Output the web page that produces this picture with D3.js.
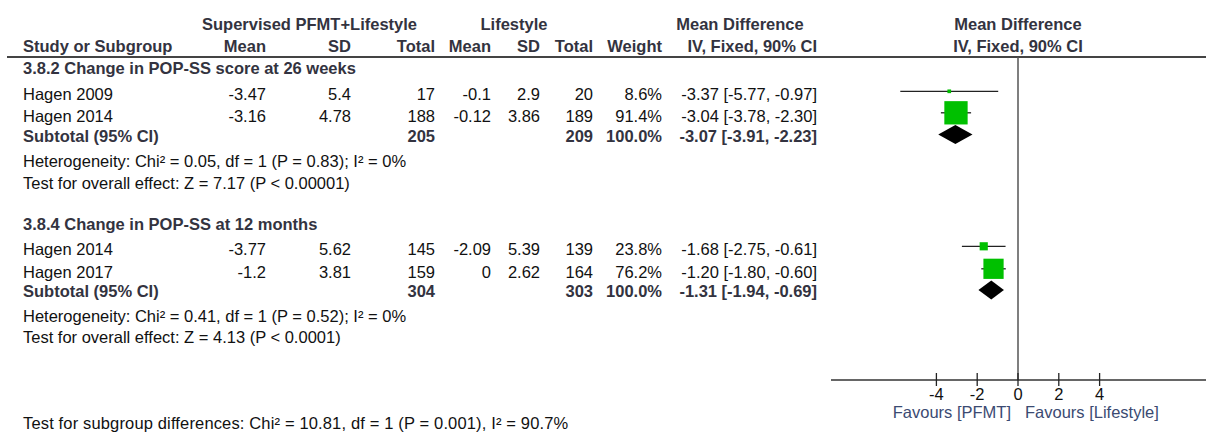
<!DOCTYPE html>
<html>
<head>
<meta charset="utf-8">
<script src="https://cdn.jsdelivr.net/npm/d3@7"></script>
<style>
  html, body { margin: 0; padding: 0; background: #fff; }
  svg { display: block; }
  text { font-family: "Liberation Sans", Arial, sans-serif; font-size: 16.5px; }
  .b { font-weight: bold; fill: #333340; }
  .r { fill: #111; }
</style>
</head>
<body>
<svg id="chart" width="1206" height="433"></svg>
<script>
// Subgroup titles
const groupTitles = ["3.8.2 Change in POP-SS score at 26 weeks", "3.8.4 Change in POP-SS at 12 months"];

// Study-level data
const studyNames = ["Hagen 2009", "Hagen 2014", "Hagen 2014", "Hagen 2017"];
const studyGroup = [0, 0, 1, 1];
const expMean  = [-3.47, -3.16, -3.77, -1.2];
const expSD    = [5.4, 4.78, 5.62, 3.81];
const expTotal = [17, 188, 145, 159];
const ctlMean  = [-0.1, -0.12, -2.09, 0];
const ctlSD    = [2.9, 3.86, 5.39, 2.62];
const ctlTotal = [20, 189, 139, 164];
const weights  = [8.6, 91.4, 23.8, 76.2];
const meanDiff = [-3.37, -3.04, -1.68, -1.20];
const ciLow    = [-5.77, -3.78, -2.75, -1.80];
const ciHigh   = [-0.97, -2.30, -0.61, -0.60];

// Subgroup pooled results
const subExpTotal = [205, 304];
const subCtlTotal = [209, 303];
const subWeight   = [100, 100];
const subMD       = [-3.07, -1.31];
const subLow      = [-3.91, -1.94];
const subHigh     = [-2.23, -0.69];
const heterogeneity = [
  "Heterogeneity: Chi² = 0.05, df = 1 (P = 0.83); I² = 0%",
  "Heterogeneity: Chi² = 0.41, df = 1 (P = 0.52); I² = 0%"
];
const overallEffect = [
  "Test for overall effect: Z = 7.17 (P < 0.00001)",
  "Test for overall effect: Z = 4.13 (P < 0.0001)"
];
const subgroupTest = "Test for subgroup differences: Chi² = 10.81, df = 1 (P = 0.001), I² = 90.7%";

// Axis
const tickValues = [-4, -2, 0, 2, 4];
const favoursLeft = "Favours [PFMT]";
const favoursRight = "Favours [Lifestyle]";

const svg = d3.select("#chart");
const f2 = d3.format(".2f");
const pct = v => d3.format(".1f")(v) + "%";
const ciText = (m, lo, hi) => `${f2(m)} [${f2(lo)}, ${f2(hi)}]`.replace(/−/g, "-");

// Forest plot scale
const x = d3.scaleLinear().domain([-4, 4]).range([936.4, 1099.6]);
const boxSize = d3.scalePow().exponent(0.78).domain([0, 100]).range([0, 25]);

// Column right edges of the table
const col = { name: 23, eMean: 266, eSD: 351, eTot: 435, cMean: 491, cSD: 540, cTot: 593, wt: 662, md: 817 };

function txt(xp, yp, s, cls, anchor) {
  return svg.append("text").attr("x", xp).attr("y", yp).attr("class", cls)
    .attr("text-anchor", anchor || "start").text(s);
}

// Headers
txt(309.5, 30, "Supervised PFMT+Lifestyle", "b", "middle");
txt(514, 30, "Lifestyle", "b", "middle");
txt(740, 30, "Mean Difference", "b", "middle");
txt(x(0), 30, "Mean Difference", "b", "middle");
txt(col.name, 52, "Study or Subgroup", "b");
txt(col.eMean, 52, "Mean", "b", "end");
txt(col.eSD, 52, "SD", "b", "end");
txt(col.eTot, 52, "Total", "b", "end");
txt(col.cMean, 52, "Mean", "b", "end");
txt(col.cSD, 52, "SD", "b", "end");
txt(col.cTot, 52, "Total", "b", "end");
txt(col.wt, 52, "Weight", "b", "end");
txt(col.md, 52, "IV, Fixed, 90% CI", "b", "end");
txt(x(0), 52, "IV, Fixed, 90% CI", "b", "middle");

svg.append("line").attr("x1", 7).attr("x2", 1206).attr("y1", 57).attr("y2", 57)
  .attr("stroke", "#444").attr("stroke-width", 2);

// Row baselines per subgroup
const layout = [
  { title: 74, rows: [100, 121.5], sub: 141.5, het: 166.5, eff: 188.5 },
  { title: 230, rows: [255, 277.5], sub: 297, het: 321.5, eff: 343 }
];

// Zero line
svg.append("line").attr("x1", x(0)).attr("x2", x(0)).attr("y1", 57).attr("y2", 380)
  .attr("stroke", "#555").attr("stroke-width", 1.5);

groupTitles.forEach((g, gi) => {
  const L = layout[gi];
  txt(col.name, L.title, g, "b");
  const idx = studyNames.map((_, i) => i).filter(i => studyGroup[i] === gi);
  idx.forEach((i, k) => {
    const yb = L.rows[k];
    txt(col.name, yb, studyNames[i], "r");
    txt(col.eMean, yb, String(expMean[i]), "r", "end");
    txt(col.eSD, yb, String(expSD[i]), "r", "end");
    txt(col.eTot, yb, String(expTotal[i]), "r", "end");
    txt(col.cMean, yb, String(ctlMean[i]), "r", "end");
    txt(col.cSD, yb, String(ctlSD[i]), "r", "end");
    txt(col.cTot, yb, String(ctlTotal[i]), "r", "end");
    txt(col.wt, yb, pct(weights[i]), "r", "end");
    txt(col.md, yb, ciText(meanDiff[i], ciLow[i], ciHigh[i]), "r", "end");

    const ym = yb - 8.7;
    svg.append("line").attr("x1", x(ciLow[i])).attr("x2", x(ciHigh[i]))
      .attr("y1", ym).attr("y2", ym).attr("stroke", "#222").attr("stroke-width", 1.3);
    const s = boxSize(weights[i]);
    svg.append("rect").attr("x", x(meanDiff[i]) - s / 2).attr("y", ym - s / 2)
      .attr("width", s).attr("height", s).attr("fill", "#00c000");
  });

  // Subtotal row
  txt(col.name, L.sub, "Subtotal (95% CI)", "b");
  txt(col.eTot, L.sub, String(subExpTotal[gi]), "b", "end");
  txt(col.cTot, L.sub, String(subCtlTotal[gi]), "b", "end");
  txt(col.wt, L.sub, pct(subWeight[gi]), "b", "end");
  txt(col.md, L.sub, ciText(subMD[gi], subLow[gi], subHigh[gi]), "b", "end");
  const yd = L.sub - 7, h = 9.5;
  svg.append("path")
    .attr("d", `M${x(subLow[gi])},${yd} L${x(subMD[gi])},${yd - h} L${x(subHigh[gi])},${yd} L${x(subMD[gi])},${yd + h} Z`)
    .attr("fill", "#000");

  txt(col.name, L.het, heterogeneity[gi], "r");
  txt(col.name, L.eff, overallEffect[gi], "r");
});

txt(col.name, 428.5, subgroupTest, "r").attr("letter-spacing", 0.15);

// Axis
const axisY = 380;
svg.append("line").attr("x1", 831).attr("x2", 1206).attr("y1", axisY).attr("y2", axisY)
  .attr("stroke", "#333").attr("stroke-width", 1.6);
tickValues.forEach(t => {
  svg.append("line").attr("x1", x(t)).attr("x2", x(t)).attr("y1", axisY - 7).attr("y2", axisY + 6)
    .attr("stroke", "#222").attr("stroke-width", 1.3);
  txt(x(t), 400, String(t), "r", "middle");
});
svg.append("text").attr("x", x(0) - 7).attr("y", 418).attr("text-anchor", "end")
  .attr("fill", "#3b4a72").text(favoursLeft);
svg.append("text").attr("x", x(0) + 7).attr("y", 418).attr("text-anchor", "start")
  .attr("fill", "#3b4a72").text(favoursRight);
</script>
</body>
</html>
